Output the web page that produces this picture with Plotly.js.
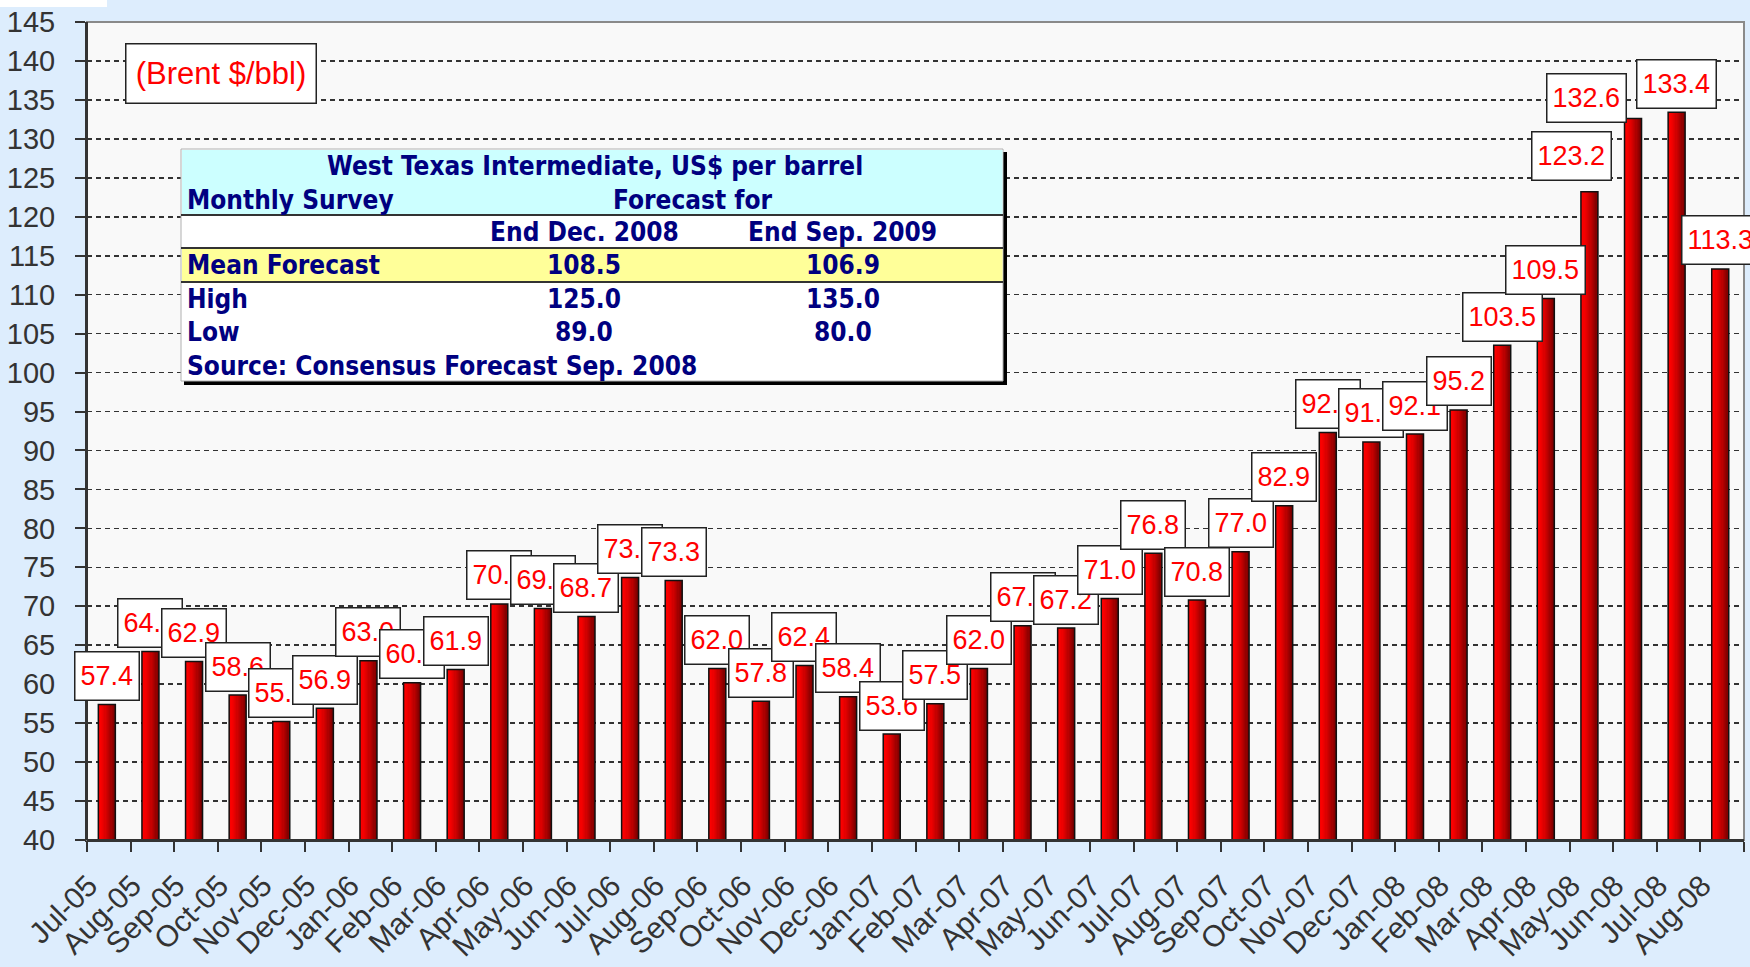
<!DOCTYPE html>
<html>
<head>
<meta charset="utf-8">
<script src="https://cdn.plot.ly/plotly-3.0.1.min.js"></script>
<style>
html,body{margin:0;padding:0;background:#DDEDFD;}
#chart{width:1750px;height:967px;}
</style>
</head>
<body>
<div id="chart"></div>
<script>
// ---------------- data ----------------
const months = ['Jul-05','Aug-05','Sep-05','Oct-05','Nov-05','Dec-05',
  'Jan-06','Feb-06','Mar-06','Apr-06','May-06','Jun-06','Jul-06','Aug-06','Sep-06','Oct-06','Nov-06','Dec-06',
  'Jan-07','Feb-07','Mar-07','Apr-07','May-07','Jun-07','Jul-07','Aug-07','Sep-07','Oct-07','Nov-07','Dec-07',
  'Jan-08','Feb-08','Mar-08','Apr-08','May-08','Jun-08','Jul-08','Aug-08'];
const brent = [57.4,64.2,62.9,58.6,55.2,56.9,
  63.0,60.2,61.9,70.3,69.7,68.7,73.7,73.3,62.0,57.8,62.4,58.4,
  53.6,57.5,62.0,67.5,67.2,71.0,76.8,70.8,77.0,82.9,92.3,91.1,
  92.1,95.2,103.5,109.5,123.2,132.6,133.4,113.3];
const unitLabel = '(Brent $/bbl)';
const tableTitle = 'West Texas Intermediate, US$ per barrel';
const surveyLabel = 'Monthly Survey';
const forecastLabel = 'Forecast for';
const horizons = ['End Dec. 2008', 'End Sep. 2009'];
const statNames = ['Mean Forecast', 'High', 'Low'];
const forecastDec08 = [108.5, 125.0, 89.0];
const forecastSep09 = [106.9, 135.0, 80.0];
const sourceNote = 'Source: Consensus Forecast Sep. 2008';
const yRange = [40, 145];
const yStep = 5;

// ---------------- layout geometry ----------------
const W = 1750, H = 967;
const PL = 87, PR = 1744, PT = 22, PB = 840;
const px = v => (v - PL) / (PR - PL);
const py = v => (PB - v) / (PB - PT);
const FONT = 'Liberation Sans, Arial, sans-serif';
const TFONT = 'DejaVu Sans Condensed, DejaVu Sans, sans-serif';
const NAVY = '#000080';

// label offsets (pixels) for manually placed data labels
const labelAdjust = { 'May-08': {dx: -20, dy: 11}, 'Jun-08': {dx: -48, dy: -4.6} };

// ---------------- bar traces (gradient as overlapping strips) ----------------
const traces = [];
const NSTRIP = 14, BW = 0.39, BOFF = -0.045;
for (let i = 0; i < NSTRIP; i++) {
  const t = i / (NSTRIP - 1);
  const r = Math.round(255 - 135 * Math.pow(t, 1.4));
  traces.push({
    type: 'bar', x: months, y: brent,
    width: BW - i * BW / NSTRIP,
    offset: BOFF - BW / 2 + i * BW / NSTRIP,
    marker: {color: `rgb(${r},0,0)`, line: {width: 0}},
    hoverinfo: 'skip', showlegend: false
  });
}
traces.push({
  type: 'bar', x: months, y: brent, width: BW, offset: BOFF - BW / 2,
  marker: {color: 'rgba(0,0,0,0)', line: {color: '#111', width: 1.5}},
  hoverinfo: 'skip', showlegend: false
});

// ---------------- annotations ----------------
const ann = [];
brent.forEach((v, i) => {
  const adj = labelAdjust[months[i]] || {dx: -2, dy: 3.5};
  ann.push({
    x: months[i], y: v, xref: 'x', yref: 'y', text: v.toFixed(1),
    showarrow: false, xanchor: 'center', yanchor: 'bottom',
    xshift: adj.dx, yshift: adj.dy,
    bgcolor: '#ffffff', bordercolor: '#222', borderwidth: 1.5, borderpad: 5, height: 37,
    font: {family: FONT, size: 27, color: '#FF0000'}
  });
});
// unit box
ann.push({
  x: px(220.6), y: py(73), xref: 'paper', yref: 'paper', text: unitLabel,
  showarrow: false, xanchor: 'center', yanchor: 'middle',
  width: 189, height: 58, bgcolor: '#ffffff', bordercolor: '#222', borderwidth: 1.5, borderpad: 0,
  font: {family: FONT, size: 31, color: '#FF0000'}
});
// table texts
function tText(text, x, y, anchor) {
  ann.push({
    x: px(x), y: py(y), xref: 'paper', yref: 'paper', text: '<b>' + text + '</b>',
    showarrow: false, xanchor: anchor, yanchor: 'middle', borderpad: 0,
    font: {family: TFONT, size: 26, color: NAVY}
  });
}
tText(tableTitle, 594.5, 165.7, 'center');
tText(surveyLabel, 186, 200, 'left');
tText(forecastLabel, 693, 200, 'center');
tText(horizons[0], 584, 232.3, 'center');
tText(horizons[1], 842, 232.3, 'center');
const rowY = [265, 299, 332.3];
statNames.forEach((n, i) => {
  tText(n, 186, rowY[i], 'left');
  tText(forecastDec08[i].toFixed(1), 584, rowY[i], 'center');
  tText(forecastSep09[i].toFixed(1), 843, rowY[i], 'center');
});
tText(sourceNote, 186, 365.7, 'left');

// ---------------- shapes ----------------
function rect(x0, y0, x1, y1, fill, line, lw) {
  return {type: 'rect', xref: 'paper', yref: 'paper', layer: 'above',
    x0: px(x0), x1: px(x1), y0: py(y1), y1: py(y0),
    fillcolor: fill, line: {color: line || 'rgba(0,0,0,0)', width: lw || 0}};
}
function hline(x0, x1, y, color, lw) {
  return {type: 'line', xref: 'paper', yref: 'paper', layer: 'above',
    x0: px(x0), x1: px(x1), y0: py(y), y1: py(y), line: {color: color, width: lw}};
}
function vline(x, y0, y1, color, lw) {
  return {type: 'line', xref: 'paper', yref: 'paper', layer: 'above',
    x0: px(x), x1: px(x), y0: py(y0), y1: py(y1), line: {color: color, width: lw}};
}
const shapes = [
  rect(0, 0, 107, 7, '#ffffff'),
  rect(PL, PT, PR, PB, 'rgba(0,0,0,0)', '#8a8a8a', 2),
  vline(PL, PT, PB, '#333', 2),
  hline(PL, PR, PB, '#333', 2),
  // table shadow + body
  rect(184, 152, 1007, 385, '#000000'),
  rect(181, 149, 1003, 381, '#ffffff', '#b0b0b0', 1),
  rect(182, 150, 1002.5, 215, '#CCFFFF'),
  rect(182, 248, 1002.5, 282, '#FFFF99'),
  hline(181, 1003, 215, '#333', 2),
  hline(181, 1003, 248, '#333', 2),
  hline(181, 1003, 282, '#333', 2)
];

// ---------------- layout ----------------
const layout = {
  width: W, height: H,
  margin: {l: PL, r: W - PR, t: PT, b: H - PB, pad: 0},
  paper_bgcolor: '#DDEDFD', plot_bgcolor: '#F9F9F9',
  barmode: 'overlay', bargap: 0,
  showlegend: false,
  font: {family: FONT, color: '#333', size: 28},
  xaxis: {
    type: 'category', categoryorder: 'array', categoryarray: months,
    range: [-0.5, months.length - 0.5],
    tickangle: -45, tickfont: {family: FONT, size: 30, color: '#333'},
    ticklabelstandoff: 14, ticklabelshift: -20,
    ticks: 'outside', tickson: 'boundaries', ticklen: 10, tickwidth: 2, tickcolor: '#333',
    showline: true, linecolor: '#333', linewidth: 2, showgrid: false, zeroline: false,
    fixedrange: true
  },
  yaxis: {
    range: yRange, dtick: yStep, tick0: 40,
    tickfont: {family: FONT, size: 29, color: '#333'},
    ticklabelstandoff: 14,
    ticks: 'outside', ticklen: 10, tickwidth: 2, tickcolor: '#333',
    showline: true, linecolor: '#333', linewidth: 2,
    showgrid: true, gridcolor: '#333', gridwidth: 1.6, griddash: '5px,4px',
    zeroline: false, fixedrange: true
  },
  shapes: shapes,
  annotations: ann
};

Plotly.newPlot('chart', traces, layout, {staticPlot: true, displayModeBar: false});
</script>
</body>
</html>
